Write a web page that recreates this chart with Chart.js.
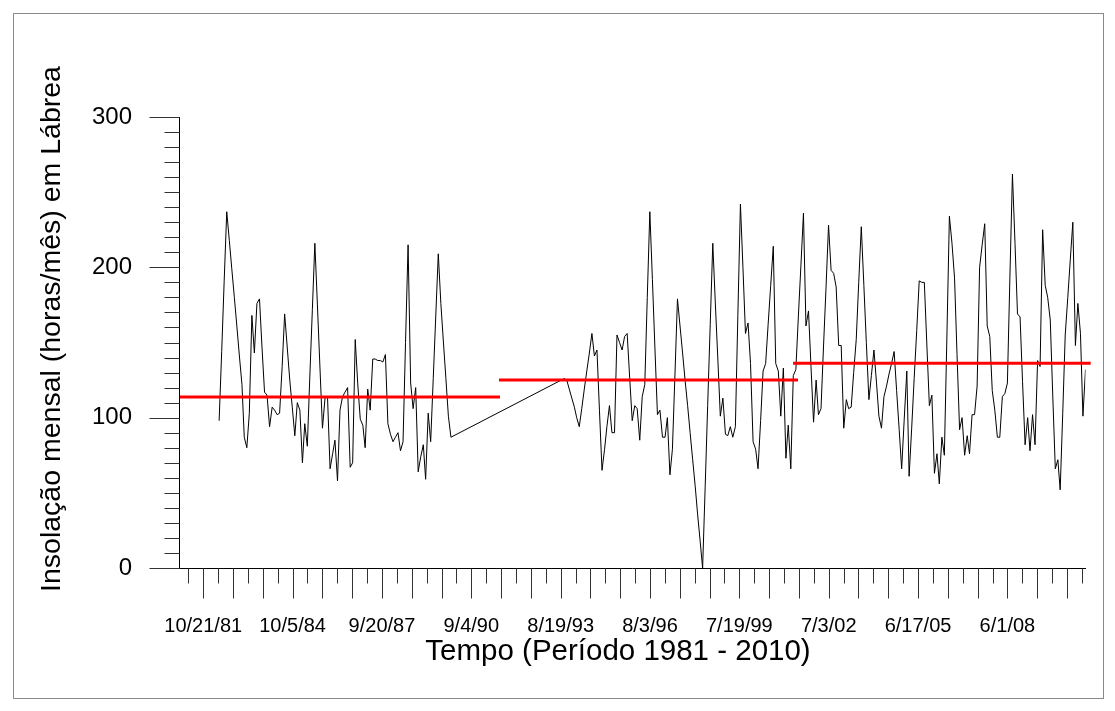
<!DOCTYPE html>
<html>
<head>
<meta charset="utf-8">
<title>Insolação mensal em Lábrea</title>
<script src="https://cdn.jsdelivr.net/npm/chart.js@4.4.1/dist/chart.umd.min.js"></script>
<style>
  html, body { margin: 0; padding: 0; background: #fff; }
  #wrap { width: 1115px; height: 711px; }
</style>
</head>
<body>
<div id="wrap"><canvas id="insolationChart" width="1115" height="711"></canvas></div>
<script>
// Monthly insolation (hours/month), two observed blocks with a gap in between.
const block1Start = [1982, 5];
const block1Values = [
  98, 144, 191, 237, 218, 199, 180, 161, 141, 122,
  87, 80, 103, 168, 143, 176, 179, 147, 117, 115,
  94, 107, 105, 102, 103, 134, 169, 147, 125, 107,
  88, 110, 105, 70, 96, 81, 127, 172, 216, 175,
  133, 93, 113, 114, 66, 76, 85, 58, 105, 114,
  117, 120, 67, 70, 152, 123, 99, 95, 80, 119,
  105, 139, 139, 138, 138, 137, 142, 96, 89, 84,
  87, 90, 78, 84, 150, 215, 123, 106, 120, 64,
  74, 82, 59, 103, 84, 126, 167, 209, 176, 151,
  126, 101, 87,
];

const block2Start = [1993, 10];
const block2Values = [
  126, 125, 119, 113, 107, 100, 94, 106, 119, 131,
  143, 156, 141, 145, 105, 65, 79, 94, 108, 90,
  90, 155, 150, 145, 154, 156, 127, 98, 108, 106,
  85, 114, 122, 180, 237, 192, 147, 102, 105, 87,
  87, 100, 62, 79, 129, 179, 161, 143, 125, 108,
  90, 72, 54, 36, 18, 0, 54, 108, 162, 216,
  177, 139, 101, 113, 89, 88, 94, 87, 94, 168,
  242, 199, 156, 163, 136, 84, 79, 66, 98, 131,
  136, 162, 188, 214, 136, 131, 101, 133, 73, 95,
  66, 128, 132, 167, 201, 236, 161, 171, 134, 97,
  125, 102, 106, 147, 187, 228, 198, 196, 187, 148,
  148, 93, 112, 106, 107, 130, 152, 190, 227, 188,
  150, 112, 128, 145, 123, 101, 93, 114, 121, 129,
  136, 144, 118, 92, 66, 99, 131, 61, 93, 126,
  158, 191, 190, 190, 149, 108, 115, 63, 76, 56,
  87, 75, 155, 234, 216, 193, 142, 92, 100, 75,
  88, 76, 102, 102, 121, 200, 215, 229, 161, 154,
  118, 105, 87, 87, 114, 116, 123, 193, 262, 216,
  169, 167, 124, 82, 100, 78, 102, 82, 138, 134,
  225, 188, 180, 165, 115, 66, 72, 52, 103, 155,
  180, 205, 230, 148, 176, 156, 101, 132,
];

// Period means (red lines)
const meanStarts = ['1981-01-01', '1991-08-05', '2001-04-28'];
const meanEnds = ['1991-08-17', '2001-06-27', '2011-03-05'];
const meanValues = [113.8, 125.1, 136.2];

// Axes
const xRange = ['1981-01-01', '2011-01-01'];
const firstTickDate = '1981-10-21';
const tickStepDays = 180;
const labelEvery = 6;
const yTicks = [0, 100, 200, 300];
const yMinorStep = 10;

const xTitle = 'Tempo (Período 1981 - 2010)';
const yTitle = 'Insolação mensal (horas/mês) em Lábrea';

const DAY_MS = 86400000;
const EPOCH = Date.UTC(1981, 0, 1);
const FONT = '"Liberation Sans", Arial, sans-serif';

function dayNumber(y, m, d) {
  return (Date.UTC(y, m - 1, d) - EPOCH) / DAY_MS;
}

function isoDay(s) {
  const [y, m, d] = s.split('-').map(Number);
  return dayNumber(y, m, d);
}

function monthlyPoints(start, values) {
  return values.map((v, i) => ({ x: dayNumber(start[0], start[1] + i, 1), y: v }));
}

function formatDay(day) {
  const d = new Date(EPOCH + day * DAY_MS);
  const yy = String(d.getUTCFullYear()).slice(2);
  return `${d.getUTCMonth() + 1}/${d.getUTCDate()}/${yy}`;
}

const xMin = isoDay(xRange[0]);
const xMax = isoDay(xRange[1]);

// tick days: every 180 days through the axis, anchored on the first labelled date
const tickDays = [];
const labelDays = new Set();
{
  const anchor = isoDay(firstTickDate);
  let k = Math.ceil((xMin - anchor) / tickStepDays);
  for (; anchor + k * tickStepDays <= xMax; k++) {
    const day = anchor + k * tickStepDays;
    tickDays.push({ day, long: k % 2 === 0 });
    if (k % labelEvery === 0) labelDays.add(day);
  }
}

const seriesPoints = monthlyPoints(block1Start, block1Values).concat(monthlyPoints(block2Start, block2Values));

const meanDatasets = meanValues.map((v, i) => ({
  data: [{ x: isoDay(meanStarts[i]), y: v }, { x: isoDay(meanEnds[i]), y: v }],
  borderColor: '#ff0000',
  borderWidth: 3,
  pointRadius: 0,
  clip: false,
}));

// Draws the frame, axis lines, long/short tick marks and the axis titles.
const axisDecor = {
  id: 'axisDecor',
  beforeDraw(chart) {
    const { ctx, width, height } = chart;
    ctx.save();
    ctx.fillStyle = '#fff';
    ctx.fillRect(0, 0, width, height);
    ctx.strokeStyle = '#8a8a8a';
    ctx.lineWidth = 1;
    ctx.strokeRect(13.5, 13.5, 1090, 685);
    ctx.restore();
  },
  afterDraw(chart) {
    const { ctx, chartArea: area, scales: { x, y } } = chart;
    const left = Math.round(area.left) + 0.5;
    const bottom = Math.round(area.bottom) + 0.5;
    ctx.save();
    ctx.lineWidth = 1;

    ctx.strokeStyle = '#000';
    ctx.beginPath();
    ctx.moveTo(left, Math.round(y.getPixelForValue(yTicks[yTicks.length - 1])));
    ctx.lineTo(left, bottom);
    ctx.lineTo(Math.round(x.getPixelForValue(xMax)), bottom);
    ctx.stroke();

    ctx.strokeStyle = '#333';
    ctx.beginPath();
    for (let v = yTicks[0]; v <= yTicks[yTicks.length - 1]; v += yMinorStep) {
      const py = Math.round(y.getPixelForValue(v)) + 0.5;
      const len = yTicks.includes(v) ? 30 : 15;
      ctx.moveTo(left - len, py);
      ctx.lineTo(left, py);
    }
    tickDays.forEach((t) => {
      const px = Math.round(x.getPixelForValue(t.day)) + 0.5;
      ctx.moveTo(px, bottom);
      ctx.lineTo(px, bottom + (t.long ? 30 : 15));
    });
    ctx.stroke();

    ctx.fillStyle = '#000';
    ctx.textAlign = 'center';
    ctx.textBaseline = 'middle';
    ctx.font = `29.5px ${FONT}`;
    ctx.fillText(xTitle, 618, 652);
    ctx.font = `28.5px ${FONT}`;
    ctx.translate(52, 329);
    ctx.rotate(-Math.PI / 2);
    ctx.fillText(yTitle, 0, 0);
    ctx.restore();
  },
};

new Chart(document.getElementById('insolationChart'), {
  type: 'line',
  data: {
    datasets: [
      ...meanDatasets,
      {
        data: seriesPoints,
        borderColor: '#000',
        borderWidth: 1,
        pointRadius: 0,
        tension: 0,
      },
    ],
  },
  options: {
    responsive: false,
    animation: false,
    devicePixelRatio: 1,
    layout: { padding: { left: 0, top: 117, right: 29.5, bottom: 0 } },
    plugins: { legend: { display: false }, tooltip: { enabled: false } },
    scales: {
      x: {
        type: 'linear',
        min: xMin,
        max: xMax,
        afterBuildTicks: (scale) => {
          scale.ticks = tickDays.map((t) => ({ value: t.day }));
        },
        afterFit: (scale) => {
          scale.height = 143;
          scale.paddingLeft = 0;
          scale.paddingRight = 0;
        },
        grid: { display: false, drawTicks: false },
        border: { display: false },
        ticks: {
          autoSkip: false,
          maxRotation: 0,
          padding: 46,
          color: '#000',
          font: { family: FONT, size: 20 },
          callback: (value) => (labelDays.has(value) ? formatDay(value) : ''),
        },
      },
      y: {
        min: 0,
        max: 300,
        afterBuildTicks: (scale) => {
          scale.ticks = yTicks.map((v) => ({ value: v }));
        },
        afterFit: (scale) => {
          scale.width = 179;
          scale.paddingTop = 0;
          scale.paddingBottom = 0;
        },
        grid: { display: false, drawTicks: false },
        border: { display: false },
        ticks: {
          padding: 47,
          color: '#000',
          font: { family: FONT, size: 24 },
        },
      },
    },
  },
  plugins: [axisDecor],
});
</script>
</body>
</html>
